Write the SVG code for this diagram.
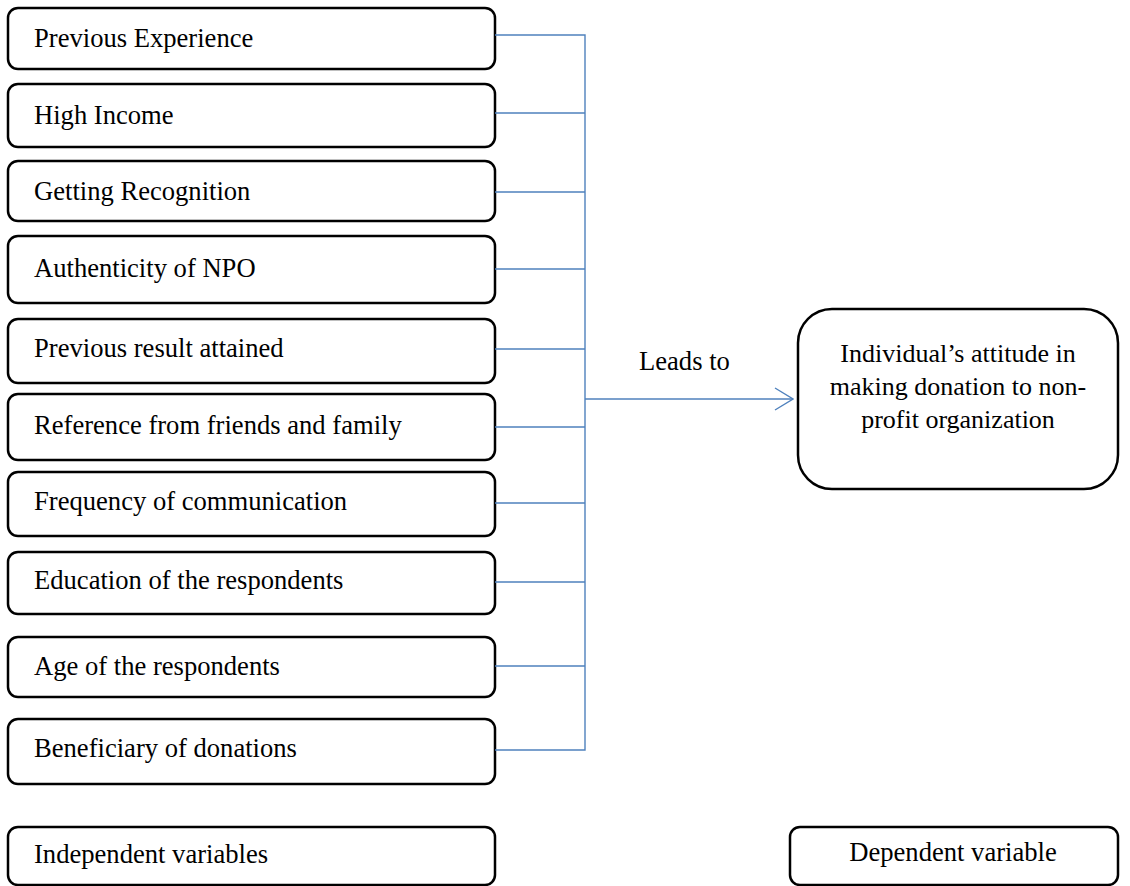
<svg xmlns="http://www.w3.org/2000/svg" width="1130" height="886" viewBox="0 0 1130 886">
  <style>
    .box { fill: #ffffff; stroke: #000000; stroke-width: 2.5; }
    .lbl { font-family: "Liberation Serif", "Times New Roman", serif; font-size: 26.6px; fill: #000000; }
    .mid { text-anchor: middle; }
    .big { font-size: 26px; }
    .wire { fill: none; stroke: #4F81BD; stroke-width: 1.4; }
  </style>
  <defs>
    <marker id="chevron" viewBox="0 0 20 24" refX="19" refY="12" markerWidth="20" markerHeight="24" markerUnits="userSpaceOnUse" orient="auto">
      <path d="M1 1 L19 12 L1 23" fill="none" stroke="#4F81BD" stroke-width="1.4"/>
    </marker>
  </defs>

  <!-- independent variable boxes -->
  <g id="previous-experience"><rect class="box" x="8" y="8" width="487" height="61" rx="10"/><text class="lbl" x="34" y="47">Previous Experience</text></g>
  <g id="high-income"><rect class="box" x="8" y="84" width="487" height="63" rx="10"/><text class="lbl" x="34" y="124">High Income</text></g>
  <g id="getting-recognition"><rect class="box" x="8" y="161" width="487" height="60" rx="10"/><text class="lbl" x="34" y="200">Getting Recognition</text></g>
  <g id="authenticity"><rect class="box" x="8" y="236" width="487" height="67" rx="10"/><text class="lbl" x="34" y="277">Authenticity of NPO</text></g>
  <g id="previous-result"><rect class="box" x="8" y="319" width="487" height="64" rx="10"/><text class="lbl" x="34" y="357">Previous result attained</text></g>
  <g id="reference"><rect class="box" x="8" y="394" width="487" height="66" rx="10"/><text class="lbl" x="34" y="434">Reference from friends and family</text></g>
  <g id="frequency"><rect class="box" x="8" y="472" width="487" height="64" rx="10"/><text class="lbl" x="34" y="510">Frequency of communication</text></g>
  <g id="education"><rect class="box" x="8" y="552" width="487" height="62" rx="10"/><text class="lbl" x="34" y="589">Education of the respondents</text></g>
  <g id="age"><rect class="box" x="8" y="637" width="487" height="60" rx="10"/><text class="lbl" x="34" y="675">Age of the respondents</text></g>
  <g id="beneficiary"><rect class="box" x="8" y="719" width="487" height="65" rx="10"/><text class="lbl" x="34" y="757">Beneficiary of donations</text></g>

  <!-- dependent variable box -->
  <g id="attitude">
    <rect class="box" x="798" y="309" width="320" height="180" rx="34"/>
    <text class="lbl mid big" x="958" y="362">Individual’s attitude in</text>
    <text class="lbl mid big" x="958" y="395">making donation to non-</text>
    <text class="lbl mid big" x="958" y="428">profit organization</text>
  </g>

  <!-- legend boxes -->
  <g id="legend-independent"><rect class="box" x="8" y="827" width="487" height="58" rx="10"/><text class="lbl" x="34" y="863">Independent variables</text></g>
  <g id="legend-dependent"><rect class="box" x="790" y="827" width="328" height="58" rx="10"/><text class="lbl mid" x="953" y="861">Dependent variable</text></g>

  <!-- connectors: branches joined by a vertical bus, then one arrow -->
  <g id="connectors">
    <path class="wire" d="M495 35 H585 V750 H495"/>
    <path class="wire" d="M495 113 H585 M495 192 H585 M495 269 H585 M495 349 H585 M495 427 H585 M495 503 H585 M495 582 H585 M495 666 H585"/>
    <line class="wire" x1="585" y1="399" x2="793" y2="399" marker-end="url(#chevron)"/>
    <text class="lbl" x="639" y="370">Leads to</text>
  </g>
</svg>
